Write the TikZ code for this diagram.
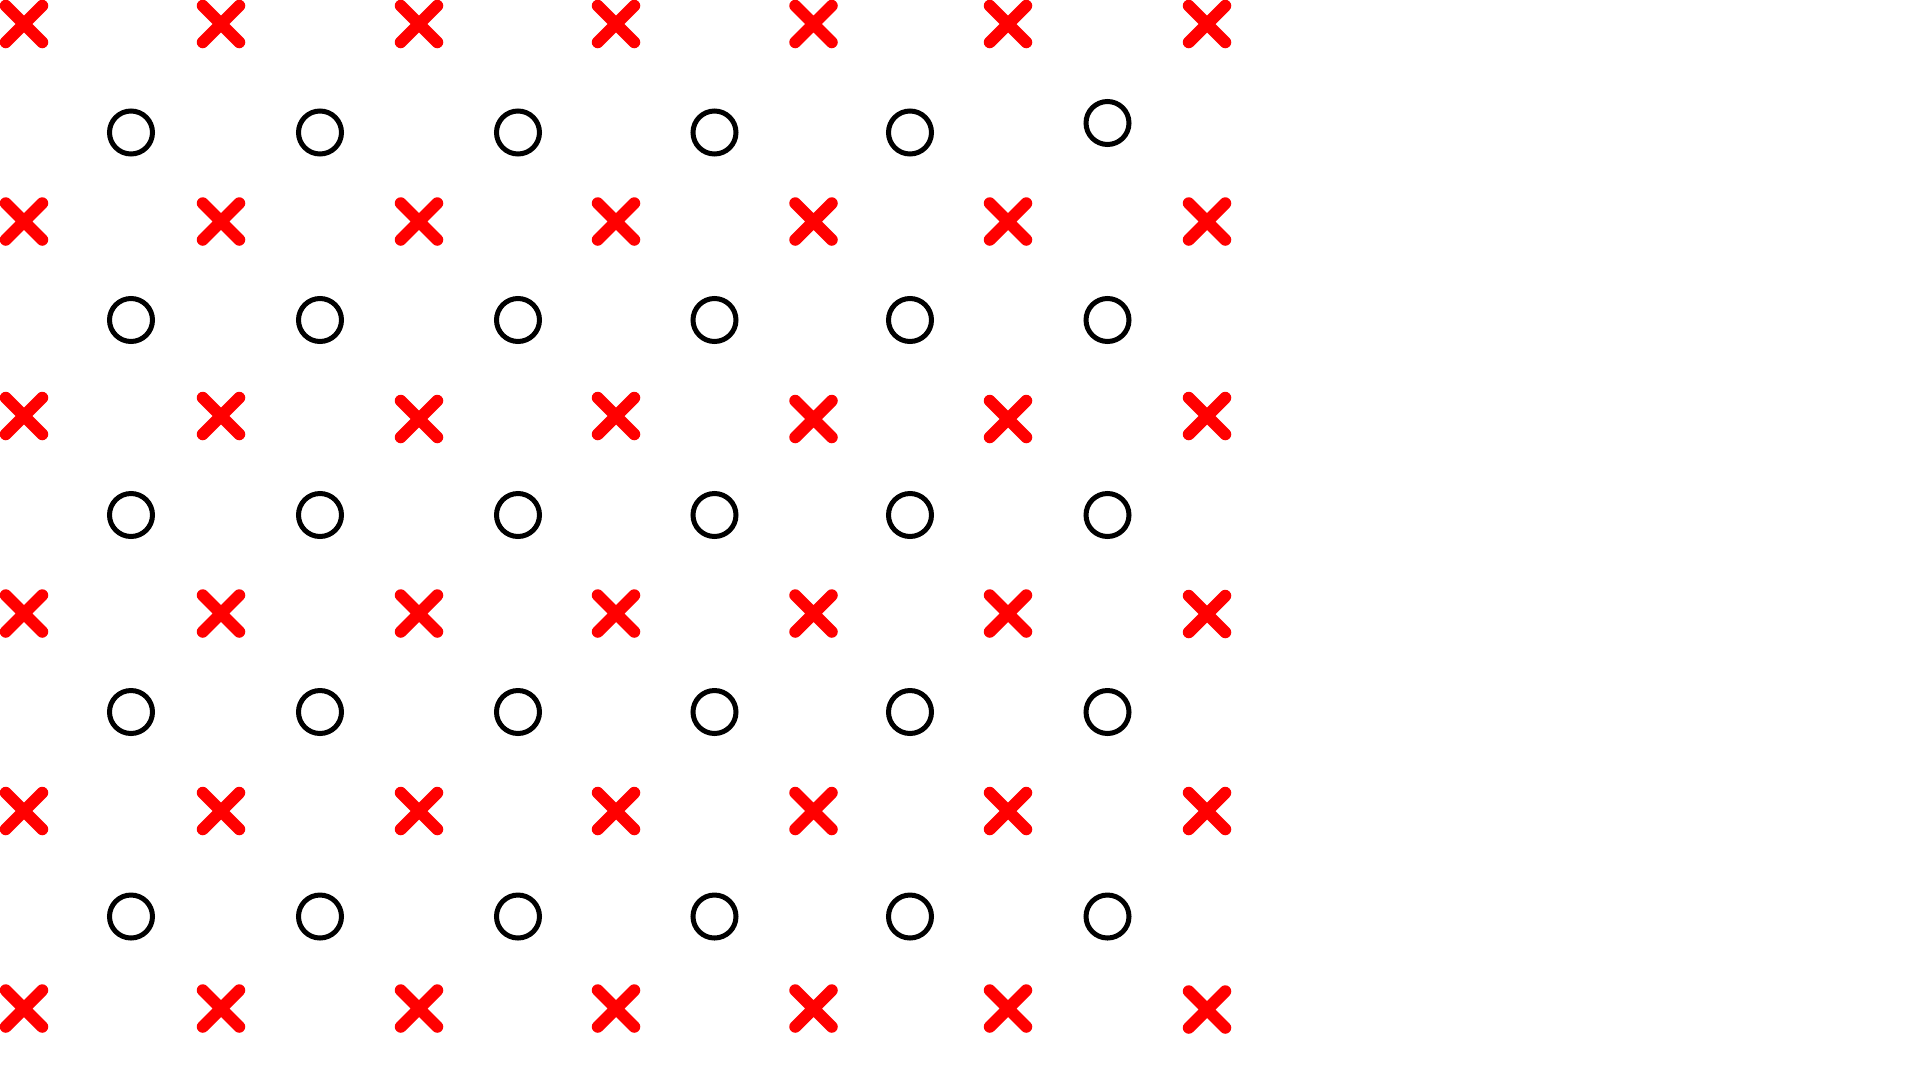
\documentclass[tikz,border=0pt]{standalone}
\begin{document}
\begin{tikzpicture}[x=1pt,y=-1pt,
  xmark/.style={rectangle,draw=none,minimum size=36.5pt,inner sep=0pt,outer sep=0pt},
  xline/.style={draw=red,line width=12pt,line cap=round},
  omark/.style={circle,draw=black,line width=5pt,minimum size=43pt,inner sep=0pt}]
\useasboundingbox (0,0) rectangle (1920,1080);
% crosses
\foreach \r/\ya/\yb/\yc/\yd/\ye/\yf/\yg in {
  0/24/24/24/24/24/24/24,
  1/221.5/221.5/221.5/221.5/221.5/221.5/221.5,
  2/416/416/419/416/419/419/416,
  3/613.5/613.5/613.5/613.5/613.5/613.5/614,
  4/811/811/811/811/811/811/811,
  5/1008.5/1008.5/1008.5/1008.5/1008.5/1008.5/1009.5}{
  \node[xmark] (x-\r-0) at (24,\ya) {};
  \node[xmark] (x-\r-1) at (221,\yb) {};
  \node[xmark] (x-\r-2) at (419,\yc) {};
  \node[xmark] (x-\r-3) at (616,\yd) {};
  \node[xmark] (x-\r-4) at (813.5,\ye) {};
  \node[xmark] (x-\r-5) at (1008,\yf) {};
  \node[xmark] (x-\r-6) at (1207,\yg) {};
  \foreach \c in {0,...,6}{
    \path[xline] (x-\r-\c.north west) -- (x-\r-\c.south east)
                 (x-\r-\c.north east) -- (x-\r-\c.south west);
  }
}
% circles
\foreach \r/\ya/\yf in {0/132.5/123, 1/320/320, 2/515/515, 3/712/712, 4/916.5/916.5}{
  \node[omark] (o-\r-0) at (131,\ya) {};
  \node[omark] (o-\r-1) at (320,\ya) {};
  \node[omark] (o-\r-2) at (518,\ya) {};
  \node[omark] (o-\r-3) at (714.5,\ya) {};
  \node[omark] (o-\r-4) at (910,\ya) {};
  \node[omark] (o-\r-5) at (1107.5,\yf) {};
}
\end{tikzpicture}
\end{document}
